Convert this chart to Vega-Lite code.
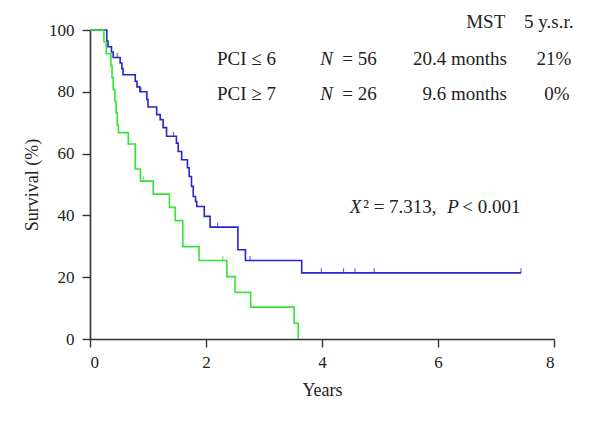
{
  "$schema": "https://vega.github.io/schema/vega-lite/v6.json",
  "autosize": "none",
  "width": 464,
  "height": 309,
  "padding": {"left": 90, "top": 30, "right": 46, "bottom": 83},
  "background": "white",
  "config": {
    "font": "Liberation Serif",
    "view": {"stroke": null},
    "axis": {
      "grid": false,
      "domainColor": "#333333",
      "domainWidth": 1.6,
      "tickColor": "#333333",
      "tickWidth": 1.4,
      "tickSize": 8,
      "labelFont": "Liberation Serif",
      "labelFontSize": 17,
      "labelColor": "#222222",
      "titleFont": "Liberation Serif",
      "titleFontSize": 18,
      "titleFontWeight": "normal",
      "titleColor": "#222222"
    }
  },
  "datasets": {
    "curves": [
      {"group": "PCI ≤ 6", "t": 0, "s": 100},
      {"group": "PCI ≤ 6", "t": 0.29, "s": 96.4},
      {"group": "PCI ≤ 6", "t": 0.31, "s": 94.6},
      {"group": "PCI ≤ 6", "t": 0.37, "s": 92.9},
      {"group": "PCI ≤ 6", "t": 0.40, "s": 91.1},
      {"group": "PCI ≤ 6", "t": 0.52, "s": 89.3},
      {"group": "PCI ≤ 6", "t": 0.55, "s": 87.5},
      {"group": "PCI ≤ 6", "t": 0.57, "s": 85.5},
      {"group": "PCI ≤ 6", "t": 0.78, "s": 83.4},
      {"group": "PCI ≤ 6", "t": 0.81, "s": 81.6},
      {"group": "PCI ≤ 6", "t": 0.86, "s": 80.0},
      {"group": "PCI ≤ 6", "t": 0.98, "s": 77.5},
      {"group": "PCI ≤ 6", "t": 1.00, "s": 75.1},
      {"group": "PCI ≤ 6", "t": 1.15, "s": 72.6},
      {"group": "PCI ≤ 6", "t": 1.21, "s": 71.0},
      {"group": "PCI ≤ 6", "t": 1.26, "s": 68.4},
      {"group": "PCI ≤ 6", "t": 1.32, "s": 65.6},
      {"group": "PCI ≤ 6", "t": 1.49, "s": 63.4},
      {"group": "PCI ≤ 6", "t": 1.52, "s": 60.7},
      {"group": "PCI ≤ 6", "t": 1.58, "s": 58.0},
      {"group": "PCI ≤ 6", "t": 1.68, "s": 55.4},
      {"group": "PCI ≤ 6", "t": 1.71, "s": 52.6},
      {"group": "PCI ≤ 6", "t": 1.75, "s": 49.4},
      {"group": "PCI ≤ 6", "t": 1.78, "s": 46.1},
      {"group": "PCI ≤ 6", "t": 1.82, "s": 44.5},
      {"group": "PCI ≤ 6", "t": 1.84, "s": 42.9},
      {"group": "PCI ≤ 6", "t": 1.97, "s": 39.7},
      {"group": "PCI ≤ 6", "t": 2.07, "s": 36.2},
      {"group": "PCI ≤ 6", "t": 2.55, "s": 28.9},
      {"group": "PCI ≤ 6", "t": 2.68, "s": 25.4},
      {"group": "PCI ≤ 6", "t": 3.65, "s": 21.4},
      {"group": "PCI ≤ 6", "t": 7.43, "s": 21.4},
      {"group": "PCI ≥ 7", "t": 0, "s": 100},
      {"group": "PCI ≥ 7", "t": 0.24, "s": 96.2},
      {"group": "PCI ≥ 7", "t": 0.28, "s": 92.3},
      {"group": "PCI ≥ 7", "t": 0.36, "s": 88.5},
      {"group": "PCI ≥ 7", "t": 0.38, "s": 84.6},
      {"group": "PCI ≥ 7", "t": 0.40, "s": 80.8},
      {"group": "PCI ≥ 7", "t": 0.43, "s": 76.9},
      {"group": "PCI ≥ 7", "t": 0.45, "s": 73.1},
      {"group": "PCI ≥ 7", "t": 0.47, "s": 69.2},
      {"group": "PCI ≥ 7", "t": 0.49, "s": 66.8},
      {"group": "PCI ≥ 7", "t": 0.66, "s": 63.1},
      {"group": "PCI ≥ 7", "t": 0.78, "s": 55.0},
      {"group": "PCI ≥ 7", "t": 0.87, "s": 51.1},
      {"group": "PCI ≥ 7", "t": 1.09, "s": 46.9},
      {"group": "PCI ≥ 7", "t": 1.37, "s": 42.6},
      {"group": "PCI ≥ 7", "t": 1.47, "s": 38.3},
      {"group": "PCI ≥ 7", "t": 1.60, "s": 29.9},
      {"group": "PCI ≥ 7", "t": 1.88, "s": 25.4},
      {"group": "PCI ≥ 7", "t": 2.36, "s": 20.2},
      {"group": "PCI ≥ 7", "t": 2.50, "s": 15.1},
      {"group": "PCI ≥ 7", "t": 2.77, "s": 10.3},
      {"group": "PCI ≥ 7", "t": 3.52, "s": 5.1},
      {"group": "PCI ≥ 7", "t": 3.59, "s": 0}
    ],
    "censored": [
      {"group": "PCI ≤ 6", "t": 0.47, "s": 91.1},
      {"group": "PCI ≤ 6", "t": 0.88, "s": 80.0},
      {"group": "PCI ≤ 6", "t": 1.44, "s": 65.6},
      {"group": "PCI ≤ 6", "t": 2.20, "s": 36.2},
      {"group": "PCI ≤ 6", "t": 2.76, "s": 25.4},
      {"group": "PCI ≤ 6", "t": 3.99, "s": 21.4},
      {"group": "PCI ≤ 6", "t": 4.37, "s": 21.4},
      {"group": "PCI ≤ 6", "t": 4.57, "s": 21.4},
      {"group": "PCI ≤ 6", "t": 4.90, "s": 21.4},
      {"group": "PCI ≤ 6", "t": 7.43, "s": 21.4},
      {"group": "PCI ≥ 7", "t": 0.92, "s": 51.1},
      {"group": "PCI ≥ 7", "t": 2.29, "s": 25.4}
    ],
    "leftText": [
      {"label": "PCI ≤ 6", "t": 2.19, "s": 90.7},
      {"label": "PCI ≥ 7", "t": 2.19, "s": 79.4},
      {"label": "= 56", "t": 4.35, "s": 90.7},
      {"label": "= 26", "t": 4.35, "s": 79.4},
      {"label": "² = 7.313,", "t": 4.71, "s": 42.8},
      {"label": "< 0.001", "t": 6.42, "s": 42.8}
    ],
    "italicText": [
      {"label": "N", "t": 3.97, "s": 90.7},
      {"label": "N", "t": 3.97, "s": 79.4},
      {"label": "X", "t": 4.48, "s": 42.8},
      {"label": "P", "t": 6.16, "s": 42.8}
    ],
    "rightText": [
      {"label": "MST", "t": 7.16, "s": 102.7},
      {"label": "20.4 months", "t": 7.19, "s": 90.7},
      {"label": "9.6 months", "t": 7.19, "s": 79.4}
    ],
    "centerText": [
      {"label": "5 y.s.r.", "t": 7.91, "s": 102.7},
      {"label": "21%", "t": 8.0, "s": 90.7},
      {"label": "0%", "t": 8.05, "s": 79.4}
    ]
  },
  "encoding": {
    "x": {
      "field": "t",
      "type": "quantitative",
      "scale": {"domain": [0, 8], "nice": false, "zero": false},
      "axis": {"title": "Years", "values": [0, 2, 4, 6, 8], "labelPadding": 7, "titlePadding": 11, "labelFont": "Liberation Serif", "titleFont": "Liberation Serif"}
    },
    "y": {
      "field": "s",
      "type": "quantitative",
      "scale": {"domain": [0, 100], "nice": false},
      "axis": {"title": "Survival (%)", "values": [0, 20, 40, 60, 80, 100], "labelPadding": 8, "titlePadding": 7, "labelFont": "Liberation Serif", "titleFont": "Liberation Serif"}
    }
  },
  "layer": [
    {
      "data": {"name": "curves"},
      "mark": {"type": "line", "interpolate": "step-after", "strokeWidth": 1.6},
      "encoding": {
        "detail": {"field": "group"},
        "color": {
          "field": "group",
          "type": "nominal",
          "scale": {"domain": ["PCI ≤ 6", "PCI ≥ 7"], "range": ["#2626cc", "#33e633"]},
          "legend": null
        }
      }
    },
    {
      "data": {"name": "censored"},
      "mark": {"type": "tick", "orient": "vertical", "size": 5, "thickness": 1.2, "yOffset": -2},
      "encoding": {
        "color": {
          "field": "group",
          "type": "nominal",
          "scale": {"domain": ["PCI ≤ 6", "PCI ≥ 7"], "range": ["#2626cc", "#33e633"]},
          "legend": null
        }
      }
    },
    {
      "data": {"name": "leftText"},
      "mark": {"type": "text", "align": "left", "baseline": "middle", "fontSize": 19, "color": "#222222"},
      "encoding": {"text": {"field": "label"}}
    },
    {
      "data": {"name": "italicText"},
      "mark": {"type": "text", "align": "left", "baseline": "middle", "fontSize": 19, "fontStyle": "italic", "color": "#222222"},
      "encoding": {"text": {"field": "label"}}
    },
    {
      "data": {"name": "rightText"},
      "mark": {"type": "text", "align": "right", "baseline": "middle", "fontSize": 19, "color": "#222222"},
      "encoding": {"text": {"field": "label"}}
    },
    {
      "data": {"name": "centerText"},
      "mark": {"type": "text", "align": "center", "baseline": "middle", "fontSize": 19, "color": "#222222"},
      "encoding": {"text": {"field": "label"}}
    }
  ]
}
